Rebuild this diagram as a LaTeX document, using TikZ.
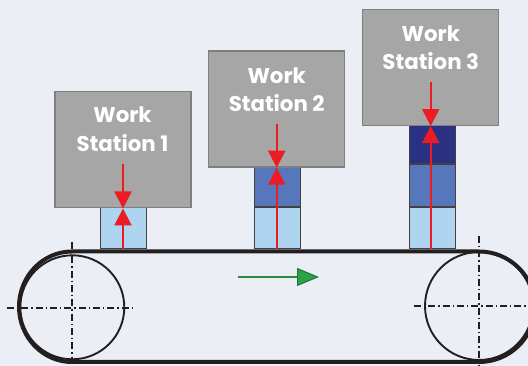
\documentclass[tikz,border=0pt]{standalone}
\usepackage{fontspec}
\setmainfont{Poppins}
\usetikzlibrary{arrows.meta}
\definecolor{bg}{HTML}{EBEFF5}
\definecolor{boxgray}{HTML}{A6A6A6}
\definecolor{boxedge}{HTML}{7F7F7F}
\definecolor{lightblue}{HTML}{AED4F0}
\definecolor{midblue}{HTML}{5677BC}
\definecolor{navyblue}{HTML}{2A3183}
\definecolor{redarrow}{HTML}{ED1C24}
\definecolor{greenfill}{HTML}{2CA446}
\definecolor{greenedge}{HTML}{1F7A35}
\definecolor{greenshaft}{HTML}{268C3E}
\definecolor{beltcol}{HTML}{231F20}
\begin{document}
\begin{tikzpicture}[x=0.75pt,y=-0.75pt,
  station/.style={draw=boxedge, line width=1.5*0.75pt, fill=boxgray,
    minimum width=136*0.75pt, minimum height=116*0.75pt, inner sep=0pt},
  part/.style={draw=beltcol!85, line width=0.9pt,
    minimum width=46*0.75pt, minimum height=41.4*0.75pt, inner sep=0pt, anchor=south},
  wslabel/.style={text=white, font=\bfseries\fontsize{16}{19}\selectfont, anchor=base, inner sep=0pt},
  press/.style={draw=redarrow, line width=2*0.75pt,
    -{Triangle[length=17*0.75pt,width=17*0.75pt,fill=redarrow]}},
  move/.style={draw=greenshaft, line width=2.2*0.75pt,
    -{Triangle[length=22*0.75pt,width=18*0.75pt,fill=greenfill,color=greenedge,line width=0.9pt]}},
  belt/.style={draw=beltcol, line width=4*0.75pt},
  pulley/.style={draw=beltcol, line width=1.9*0.75pt},
  axisline/.style={draw=beltcol, line width=1.7*0.75pt,
    dash pattern=on 5.25pt off 2.2pt on 1.1pt off 2.2pt}
]
\useasboundingbox (0,0) rectangle (528,366);
\clip (0,0) rectangle (528,366);
\fill[bg] (0,0) rectangle (528,366);

% belt and pulleys
\draw[belt] (72,251.5) -- (479,251.5)
  arc[start angle=-90,end angle=90,x radius=56,y radius=55.25]
  -- (72,362)
  arc[start angle=90,end angle=270,x radius=53,y radius=55.25] -- cycle;
\coordinate (pl) at (72.3,307.3);
\coordinate (pr) at (479,306);
\draw[pulley] (pl) circle[radius=52];
\draw[pulley] (pr) circle[radius=54];
\draw[axisline] (71.7,242) -- (71.7,366);
\draw[axisline] (7,308) -- (133,308);
\draw[axisline] (479,236) -- (479,366);
\draw[axisline] (414,306) -- (528,306);

% parts
\node[part, fill=lightblue] (p1a) at (123.3,249.5) {};
\node[part, fill=lightblue] (p2a) at (277.2,249.5) {};
\node[part, fill=midblue] (p2b) at (p2a.north) {};
\node[part, fill=lightblue] (p3a) at (432.7,249.5) {};
\node[part, fill=midblue] (p3b) at (p3a.north) {};
\node[part, fill=navyblue] (p3c) at (p3b.north) {};

% work stations
\node[station] (ws1) at (123,149.7) {};
\node[station] (ws2) at (276.7,109) {};
\node[station] (ws3) at (430.7,67.3) {};

\node[wslabel] (t1a) at (122.5,123) {Work};
\node[wslabel] (t1b) at (122.5,152) {Station 1};
\node[wslabel] (t2a) at (276.7,83.3) {Work};
\node[wslabel] (t2b) at (276.7,111.5) {Station 2};
\node[wslabel] (t3a) at (430.8,41.7) {Work};
\node[wslabel] (t3b) at (430.8,70) {Station 3};

% press arrows
\draw[press] ([yshift=44*0.75pt]ws1.south) -- (ws1.south);
\draw[press] (p1a.south -| ws1.south) -- (ws1.south);
\draw[press] ([yshift=44*0.75pt]ws2.south) -- (ws2.south);
\draw[press] (p2a.south -| ws2.south) -- (ws2.south);
\draw[press] ([yshift=44*0.75pt]ws3.south) -- (ws3.south);
\draw[press] (p3a.south -| ws3.south) -- (ws3.south);

% conveyor direction
\coordinate (g0) at (238,277);
\coordinate (g1) at (319,277);
\draw[move] (g0) -- (g1);
\end{tikzpicture}
\end{document}
